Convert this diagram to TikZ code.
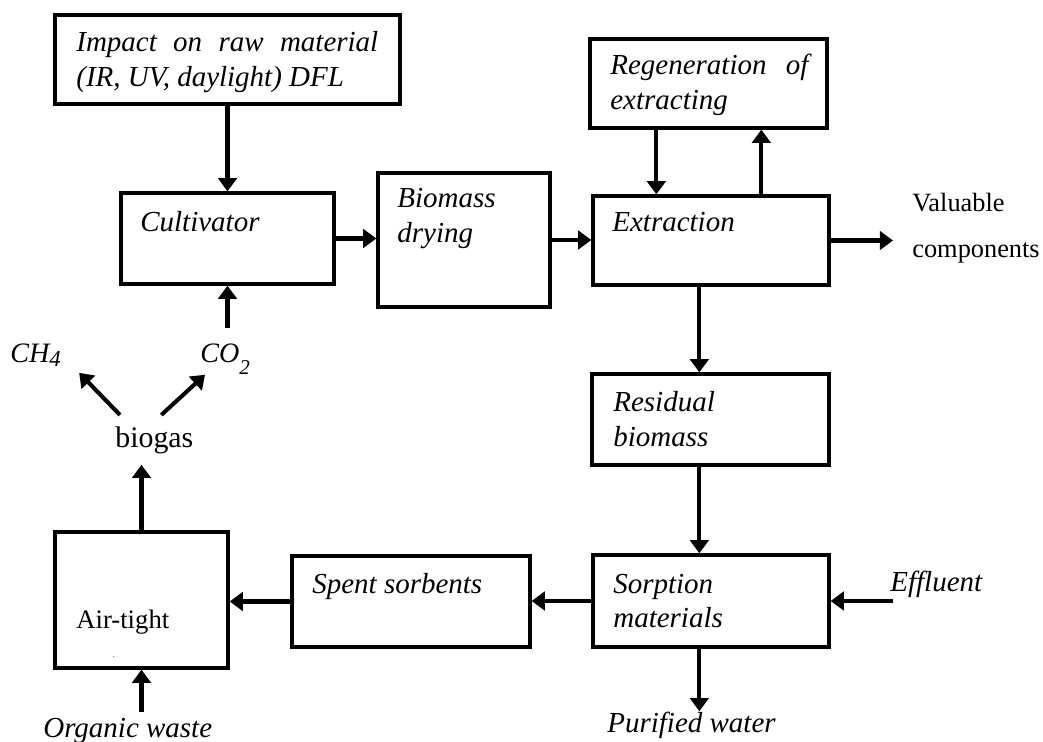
\documentclass[tikz,border=0pt]{standalone}
\usepackage{fontspec}
\setmainfont{Liberation Serif}
\usetikzlibrary{arrows.meta}

\begin{document}
\begin{tikzpicture}[
        x=0.02cm, y=-0.02cm,
        box/.style={draw, line width=1.9pt, inner sep=0pt},
        flow/.style={line width=2.3pt, -{Triangle[length=7.5pt, width=10.5pt]}},
        txt/.style={anchor=base west, inner sep=0pt, font=\fontsize{16.5}{19.6}\selectfont\itshape},
        para/.style={txt, text width=#1, align=left},
        plain/.style={anchor=base west, inner sep=0pt, font=\fontsize{#1}{26}\selectfont}
    ]
        \useasboundingbox (0,0) rectangle (1043,742);

        % Process boxes
        \node[box, minimum width=6.9cm, minimum height=1.78cm] (impact) at (227.5,59.5) {};
        \node[box, minimum width=4.26cm, minimum height=1.82cm] (cult) at (227.5,238.5) {};
        \node[box, minimum width=3.44cm, minimum height=2.68cm] (dry) at (464,240) {};
        \node[box, minimum width=4.72cm, minimum height=1.78cm] (extr) at (711,240.5) {};
        \node[box, minimum width=4.74cm, minimum height=1.78cm] (regen) at (708.5,83.5) {};
        \node[box, minimum width=4.74cm, minimum height=1.82cm] (resid) at (710.5,419.5) {};
        \node[box, minimum width=4.72cm, minimum height=1.84cm] (sorp) at (711,601) {};
        \node[box, minimum width=4.76cm, minimum height=1.82cm] (spent) at (411,601.5) {};
        \node[box, minimum width=3.46cm, minimum height=2.72cm] (air) at (141.5,600) {};

        % Box texts
        \node[para=6.04cm, align=justify] (impact_txt) at (76,52) {Impact on raw material (IR, UV, daylight) DFL};
        \node[para=3.96cm, align=justify] (regen_txt) at (610,75) {Regeneration of extracting};
        \node[txt] (cult_txt) at (140,232) {Cultivator};
        \node[para=3cm] (dry_txt) at (397,208) {Biomass\\drying};
        \node[txt] (extr_txt) at (612,232) {Extraction};
        \node[para=3cm] (resid_txt) at (613,412) {Residual\\biomass};
        \node[para=3cm] (sorp_txt) at (613,593) {Sorption\\materials};
        \node[txt] (spent_txt) at (312,593) {Spent sorbents};
        \node[plain=15.2] (air_txt) at (76,628) {Air-tight};
        \node[plain=6, text=gray] (air_dot) at (112,657) {.};

        % Free labels
        \node[plain=15, text width=3cm, align=left] (val) at (912,212) {Valuable\\components};
        \node[txt] (eff) at (890,591) {Effluent};
        \node[txt] (pw) at (607,732) {Purified water};
        \node[txt] (ow) at (43,737) {Organic waste};
        \node[plain=17, inner ysep=0.22cm] (bio) at (115,447) {biogas};
        \node[txt, font=\fontsize{16}{19}\selectfont\itshape] (ch4) at (10,363) {CH\raisebox{-2pt}{\fontsize{13}{13}\selectfont 4}};
        \node[txt, font=\fontsize{16}{19}\selectfont\itshape] (co2) at (200,363) {CO\raisebox{-6.5pt}{\fontsize{12}{12}\selectfont 2}};

        % Helper points
        \coordinate (rd) at ([xshift=1.36cm]regen.south west);
        \coordinate (ru) at ([xshift=3.4cm]extr.north west);
        \coordinate (col) at ([xshift=2.16cm]extr.south west);
        \coordinate (effin) at ([shift={(0.06cm,-0.2cm)}]eff.base west);
        \coordinate (co2top) at ([yshift=0.32cm]co2.north);
        \coordinate (owtop) at ([yshift=0.1cm]ow.north);

        % Main line
        \draw[flow] (impact) -- (cult);
        \draw[flow] (cult.east) -- (cult.east -| dry.west);
        \draw[flow] (dry.east) -- (dry.east -| extr.west);
        \draw[flow] (rd) -- (rd |- extr.north);
        \draw[flow] (ru) -- (ru |- regen.south);
        \draw[flow, shorten >=0.38cm] (extr.east) -- (extr.east -| val.west);

        % Residues
        \draw[flow] (col) -- (col |- resid.north);
        \draw[flow] (col |- resid.south) -- (col |- sorp.north);
        \draw[flow] (col |- sorp.south) -- (col |- pw.north);
        \draw[flow] (effin) -- (effin -| sorp.east);
        \draw[flow] (sorp.west) -- (sorp.west -| spent.east);
        \draw[flow] (spent.west) -- (spent.west -| air.east);

        % Biogas loop
        \draw[flow] (owtop -| air.south) -- (air.south);
        \draw[flow] (air.north) -- (air.north |- bio.south);
        \draw[flow] ([xshift=0.1cm]bio.north west) -- ([shift={(0.36cm,-0.12cm)}]ch4.south east);
        \draw[flow] ([xshift=0.14cm]bio.north) -- ([xshift=0.1cm]co2.south west);
        \draw[flow] (co2top -| cult.south) -- (cult.south);

    \end{tikzpicture}
\end{document}
